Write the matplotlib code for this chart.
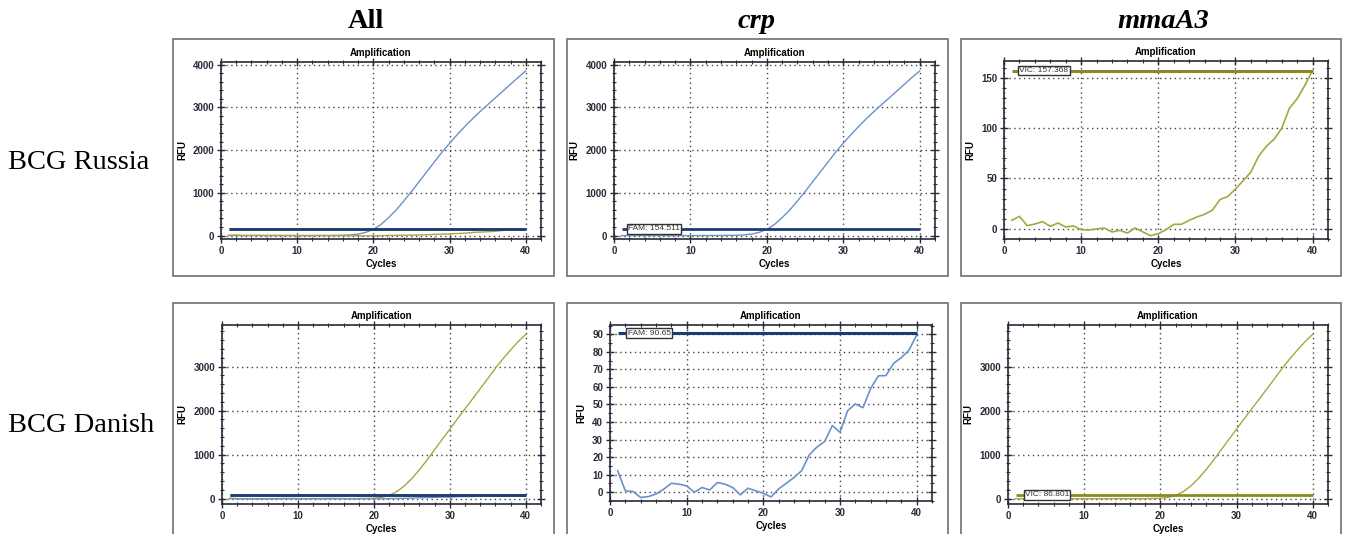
import numpy as np
import matplotlib
matplotlib.use("Agg")
import matplotlib.pyplot as plt
from matplotlib.patches import Rectangle
from matplotlib.ticker import MultipleLocator

# cycle numbers
cycles = np.arange(1, 41)

# BCG Russia, FAM (crp) channel
fam_russia = [0, 0, 0, 0, 0, 0, 0, 0, 0, 0, 1, 1, 2, 3, 5, 8, 15, 35, 75, 145,
              260, 420, 600, 810, 1030, 1260, 1490, 1720, 1950, 2160,
              2360, 2550, 2730, 2900, 3060, 3220, 3380, 3540, 3700, 3850]
# BCG Russia, VIC (mmaA3) channel
vic_russia = [8.3, 12.3, 3, 4.6, 7, 2.3, 5.6, 1.7, 2.7, -1, -1.3, -0.3, 0.7, -3.3,
              -1.7, -4.3, 0.7, -3.3, -7, -5, -1, 4.3, 4.3, 8.3, 11.6, 14.3, 18.3,
              29, 32, 39.5, 47.8, 56.4, 72, 82, 89, 100, 120, 129.4, 142.7, 157.6]
# BCG Danish, FAM (crp) channel
fam_danish = [12.2, 0.8, 0.4, -3, -2.5, -1, 1.7, 5.1, 4.6, 3.6, 0, 2.7, 1.3, 5.5,
              4.6, 2.7, -1.5, 2.3, 0.8, -0.6, -2.7, 1.9, 5.1, 8.4, 12.3, 21.3, 25.8,
              28.9, 38, 34.2, 46.5, 50.3, 48.2, 59.2, 66.3, 66.5, 73.5, 76.7, 81, 89.6]
# BCG Danish, VIC (mmaA3) channel
vic_danish = [0, 0, 0, 0, 0, 0, 0, 0, 0, 0, 0, 0, 0, 0, 0, 1, 1, 2, 5, 12,
              30, 75, 160, 290, 460, 660, 880, 1115, 1350, 1580,
              1815, 2045, 2270, 2500, 2730, 2965, 3180, 3380, 3570, 3735]

# thresholds
thr_fam_russia = 154.511
thr_vic_russia = 157.368
thr_fam_danish = 90.65
thr_vic_danish = 86.801

col_titles = ["All", "crp", "mmaA3"]
row_titles = ["BCG Russia", "BCG Danish"]

BLUE = "#6a92c8"
DBLUE = "#1d3b78"
OLIVE = "#a8a640"
DOLIVE = "#8c8a22"
AXC = "#2a2a3a"

W, H = 1350, 534
fig = plt.figure(figsize=(W / 100, H / 100), dpi=100)


def px_axes(l, t, r, b):
    return fig.add_axes([l / W, 1 - b / H, (r - l) / W, (b - t) / H])


def frame(l, t, r, b):
    fig.patches.append(Rectangle((l / W, 1 - b / H), (r - l) / W, (b - t) / H,
                                 transform=fig.transFigure, fill=False,
                                 edgecolor="#7a7a7a", lw=1.3))


def style(ax, ylim, ymaj, ymin):
    ax.set_xlim(0, 42)
    ax.set_ylim(*ylim)
    ax.xaxis.set_major_locator(MultipleLocator(10))
    ax.xaxis.set_minor_locator(MultipleLocator(2))
    ax.yaxis.set_major_locator(MultipleLocator(ymaj))
    ax.yaxis.set_minor_locator(MultipleLocator(ymin))
    ax.tick_params(which="both", direction="inout", top=True, right=True,
                   labeltop=False, labelright=False, colors=AXC,
                   labelsize=7, pad=2)
    ax.tick_params(which="major", length=6, width=1)
    ax.tick_params(which="minor", length=3, width=0.8)
    for lab in ax.get_xticklabels() + ax.get_yticklabels():
        lab.set_fontweight("bold")
    for s in ax.spines.values():
        s.set_color(AXC)
        s.set_linewidth(1.2)
    ax.grid(True, which="major", linestyle=(0, (1, 2.5)), color="#444444", lw=1)
    ax.set_title("Amplification", fontsize=7, fontweight="bold", pad=4)
    ax.set_xlabel("Cycles", fontsize=7, fontweight="bold", labelpad=2)
    ax.set_ylabel("RFU", fontsize=7, fontweight="bold", labelpad=4)


def thr_label(ax, x, y, text):
    ax.text(x, y, text, fontsize=6, color="#333333", va="center", ha="left",
            bbox=dict(boxstyle="square,pad=0.15", fc="white", ec="#333333", lw=1),
            zorder=6)


plt.rcParams["font.family"] = ["Liberation Sans", "DejaVu Sans"]

# frames around each instrument screenshot
for l, r in [(173, 554), (567, 948), (961, 1341)]:
    frame(l, 39, r, 276)
    frame(l, 303, r, 560)

# row 1
ax1 = px_axes(221, 62, 541, 239)
ax1.plot(cycles, fam_russia, color=BLUE, lw=1)
ax1.plot(cycles, vic_russia, color=OLIVE, lw=1)
ax1.hlines(thr_vic_russia, 1, 40, color=DOLIVE, lw=2)
ax1.hlines(thr_fam_russia, 1, 40, color=DBLUE, lw=2)
style(ax1, (-80, 4060), 1000, 200)

ax2 = px_axes(614, 62, 935, 239)
ax2.plot(cycles, fam_russia, color=BLUE, lw=1)
ax2.hlines(thr_fam_russia, 1, 40, color=DBLUE, lw=2)
thr_label(ax2, 1.8, thr_fam_russia, "FAM: 154.511")
style(ax2, (-80, 4060), 1000, 200)

ax3 = px_axes(1004, 61, 1328, 239)
ax3.plot(cycles, vic_russia, color=OLIVE, lw=1.2)
ax3.hlines(thr_vic_russia, 1, 40, color=DOLIVE, lw=2.2)
thr_label(ax3, 2.0, thr_vic_russia, "VIC: 157.368")
style(ax3, (-10.3, 167), 50, 10)

# row 2
ax4 = px_axes(222, 325, 541, 504)
ax4.plot(cycles, vic_danish, color=OLIVE, lw=1)
ax4.plot(cycles, fam_danish, color=BLUE, lw=1)
ax4.hlines(thr_vic_danish, 1, 40, color=DOLIVE, lw=2)
ax4.hlines(thr_fam_danish, 1, 40, color=DBLUE, lw=2)
style(ax4, (-120, 3946), 1000, 200)

ax5 = px_axes(610, 325, 932, 501)
ax5.plot(cycles, fam_danish, color=BLUE, lw=1.2)
ax5.hlines(thr_fam_danish, 1, 40, color=DBLUE, lw=2.2)
thr_label(ax5, 2.3, thr_fam_danish, "FAM: 90.65")
style(ax5, (-5, 95.3), 10, 5)

ax6 = px_axes(1008, 325, 1328, 504)
ax6.plot(cycles, vic_danish, color=OLIVE, lw=1)
ax6.hlines(thr_vic_danish, 1, 40, color=DOLIVE, lw=2)
thr_label(ax6, 2.2, thr_vic_danish, "VIC: 86.801")
style(ax6, (-120, 3946), 1000, 200)

# column and row headings
serif = ["Liberation Serif", "DejaVu Serif"]
for x, t, st in zip([366, 757, 1163], col_titles, ["normal", "italic", "italic"]):
    fig.text(x / W, 1 - 21 / H, t, ha="center", va="center", fontsize=20.5,
             fontweight="bold", style=st, family=serif)
for y, t in zip([162, 425], row_titles):
    fig.text(8 / W, 1 - y / H, t, ha="left", va="center", fontsize=20.5,
             family=serif)

fig.savefig("out.png", dpi=100)
